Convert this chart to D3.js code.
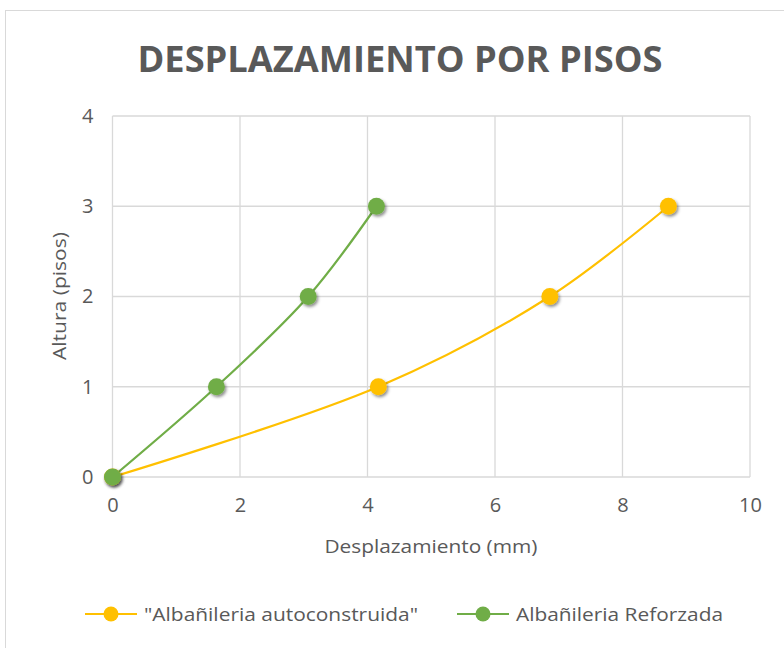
<!DOCTYPE html>
<html>
<head>
<meta charset="utf-8">
<title>Desplazamiento por pisos</title>
<script src="https://cdn.jsdelivr.net/npm/d3@7"></script>
<style>
  body { margin: 0; background: #fff; }
  text { font-family: "Open Sans", "Liberation Sans", sans-serif; fill: #595959; }
</style>
</head>
<body>
<div id="chart"></div>
<script>
// data
var seriesNames = ['"Albañileria autoconstruida"', "Albañileria Reforzada"];
var seriesColors = ["#FFC000", "#70AD47"];
var autoX = [0, 4.17, 6.86, 8.72];
var autoY = [0, 1, 2, 3];
var reforzX = [0, 1.63, 3.07, 4.14];
var reforzY = [0, 1, 2, 3];
var xTicks = [0, 2, 4, 6, 8, 10];
var yTicks = [0, 1, 2, 3, 4];

var W = 784, H = 648;
var svg = d3.select("#chart").append("svg").attr("width", W).attr("height", H);

// marker shadow
var f = svg.append("defs").append("filter").attr("id", "sh")
  .attr("x", "-50%").attr("y", "-50%").attr("width", "200%").attr("height", "200%");
f.append("feDropShadow").attr("dx", 1.5).attr("dy", 2).attr("stdDeviation", 1.8)
  .attr("flood-color", "#000").attr("flood-opacity", 0.45);

// chart frame
svg.append("rect").attr("x", 5.5).attr("y", 10.5).attr("width", 790).attr("height", 650)
  .attr("fill", "#fff").attr("stroke", "#d9d9d9");

var x = d3.scaleLinear().domain([0, 10]).range([112.5, 750]);
var y = d3.scaleLinear().domain([0, 4]).range([477, 116]);

// grid
svg.append("g").selectAll("line").data(xTicks).enter().append("line")
  .attr("x1", d => x(d)).attr("x2", d => x(d)).attr("y1", y(4)).attr("y2", y(0))
  .attr("stroke", "#d9d9d9").attr("stroke-width", 1.3);
svg.append("g").selectAll("line").data(yTicks).enter().append("line")
  .attr("x1", x(0)).attr("x2", x(10)).attr("y1", d => y(d)).attr("y2", d => y(d))
  .attr("stroke", "#d9d9d9").attr("stroke-width", 1.3);

// axes (labels only)
var xa = svg.append("g").attr("transform", "translate(0," + y(0) + ")")
  .call(d3.axisBottom(x).tickValues(xTicks).tickFormat(d3.format("d")).tickSize(0).tickPadding(21));
var ya = svg.append("g").attr("transform", "translate(" + x(0) + ",0)")
  .call(d3.axisLeft(y).tickValues(yTicks).tickFormat(d3.format("d")).tickSize(0).tickPadding(19));
[xa, ya].forEach(function (a) {
  a.select(".domain").remove();
  a.selectAll("text").attr("font-size", 20).attr("fill", "#595959")
    .style("font-family", "'Open Sans', sans-serif");
});

// title
svg.append("text").attr("x", 400).attr("y", 72).attr("text-anchor", "middle")
  .attr("font-size", 36).attr("font-weight", "bold")
  .attr("textLength", 525).attr("lengthAdjust", "spacingAndGlyphs")
  .text("DESPLAZAMIENTO POR PISOS");

// axis titles
svg.append("text").attr("x", 431).attr("y", 553).attr("text-anchor", "middle")
  .attr("font-size", 18).attr("textLength", 213).attr("lengthAdjust", "spacingAndGlyphs")
  .text("Desplazamiento (mm)");
svg.append("text").attr("transform", "translate(66,296) rotate(-90)")
  .attr("text-anchor", "middle").attr("font-size", 18)
  .attr("textLength", 128).attr("lengthAdjust", "spacingAndGlyphs")
  .text("Altura (pisos)");

// series
var series = [
  d3.zip(autoX, autoY),
  d3.zip(reforzX, reforzY)
];
var line = d3.line().x(d => x(d[0])).y(d => y(d[1])).curve(d3.curveCatmullRom.alpha(0.5));

series.forEach(function (pts, i) {
  svg.append("path").datum(pts).attr("d", line).attr("fill", "none")
    .attr("stroke", seriesColors[i]).attr("stroke-width", 2.2);
});
series.forEach(function (pts, i) {
  svg.append("g").selectAll("circle").data(pts).enter().append("circle")
    .attr("cx", d => x(d[0])).attr("cy", d => y(d[1])).attr("r", 8.5)
    .attr("fill", seriesColors[i]).attr("filter", "url(#sh)");
});

// legend
var legX = [85, 457], legW = [274, 207];
seriesNames.forEach(function (n, i) {
  var g = svg.append("g").attr("transform", "translate(" + legX[i] + ",614)");
  g.append("line").attr("x1", 0).attr("x2", 52).attr("stroke", seriesColors[i]).attr("stroke-width", 2.2);
  g.append("circle").attr("cx", 26).attr("r", 7.5).attr("fill", seriesColors[i]);
  g.append("text").attr("x", 59).attr("y", 6.5).attr("font-size", 18)
    .attr("textLength", legW[i]).attr("lengthAdjust", "spacingAndGlyphs").text(n);
});
</script>
</body>
</html>
